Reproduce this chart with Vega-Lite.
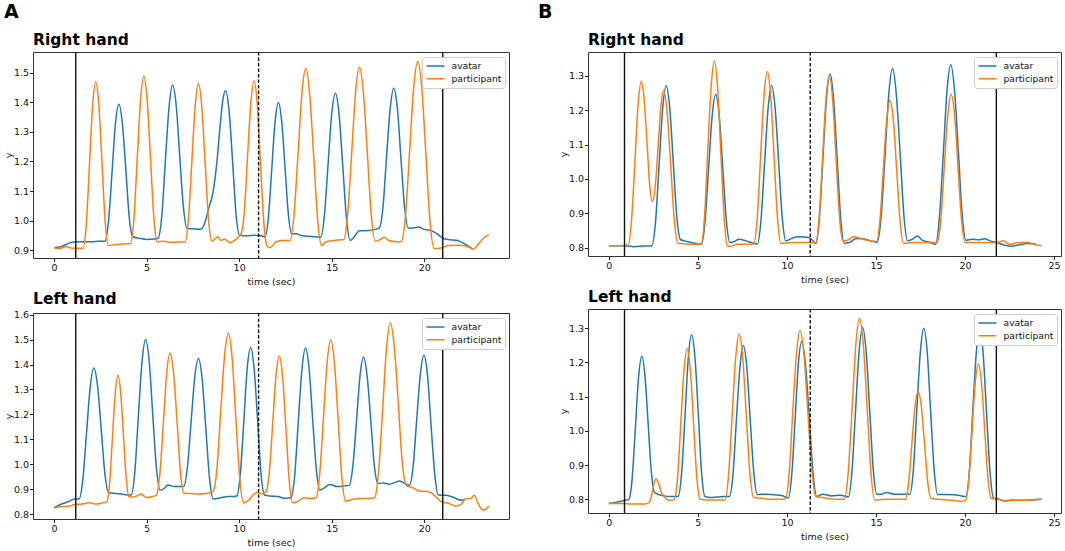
{
"$schema": "https://vega.github.io/schema/vega-lite/v6.json",
"padding": {"left": 2, "top": 2, "right": 2, "bottom": 3},
"config": {
 "font": "DejaVu Sans",
 "view": {"stroke": "#333", "strokeWidth": 1},
 "axis": {"grid": false, "domain": false, "tickColor": "#222", "tickSize": 3.5, "tickWidth": 1, "labelFontSize": 9.5, "labelColor": "#111", "titleFontSize": 9.5, "titleFontWeight": "normal", "titleColor": "#111", "labelPadding": 1},
 "axisX": {"titlePadding": 4},
 "axisY": {"titlePadding": 0},
 "legend": {"fillColor": "white", "strokeColor": "#ccc", "cornerRadius": 3, "padding": 3.5, "offset": 4.5, "labelFontSize": 9.2, "labelColor": "#111", "symbolType": "stroke", "symbolSize": 324, "symbolStrokeWidth": 1.5, "rowPadding": 1.7, "labelOffset": 6, "clipHeight": 11},
 "title": {"anchor": "start", "frame": "group", "fontSize": 15.5, "fontWeight": "bold", "color": "#000", "offset": 2.5}
},
"datasets": {
 "ev_a": [{"t":1.17,"k":"solid"},{"t":11.05,"k":"dashed"},{"t":21.0,"k":"solid"}],
 "ev_b": [{"t":0.88,"k":"solid"},{"t":11.31,"k":"dashed"},{"t":21.76,"k":"solid"}],
 "rh_a": [
{"t":0,"y":0.908,"s":"avatar"},{"t":0.3,"y":0.91,"s":"avatar"},{"t":0.7,"y":0.92,"s":"avatar"},{"t":1.0,"y":0.927,"s":"avatar"},{"t":1.5,"y":0.928,"s":"avatar"},{"t":2.0,"y":0.928,"s":"avatar"},{"t":2.4,"y":0.93,"s":"avatar"},
{"t":2.75,"y":0.93,"s":"avatar"},{"t":2.94,"y":0.998,"s":"avatar"},{"t":3.13,"y":1.162,"s":"avatar"},{"t":3.31,"y":1.326,"s":"avatar"},{"t":3.5,"y":1.394,"s":"avatar"},{"t":3.69,"y":1.328,"s":"avatar"},{"t":3.88,"y":1.17,"s":"avatar"},{"t":4.06,"y":1.011,"s":"avatar"},{"t":4.25,"y":0.945,"s":"avatar"},
{"t":4.6,"y":0.94,"s":"avatar"},{"t":5.0,"y":0.936,"s":"avatar"},{"t":5.4,"y":0.937,"s":"avatar"},
{"t":5.62,"y":0.94,"s":"avatar"},{"t":5.82,"y":1.016,"s":"avatar"},{"t":6.01,"y":1.2,"s":"avatar"},{"t":6.21,"y":1.383,"s":"avatar"},{"t":6.4,"y":1.459,"s":"avatar"},{"t":6.6,"y":1.388,"s":"avatar"},{"t":6.79,"y":1.216,"s":"avatar"},{"t":6.99,"y":1.044,"s":"avatar"},{"t":7.18,"y":0.973,"s":"avatar"},
{"t":7.5,"y":0.972,"s":"avatar"},{"t":7.9,"y":0.97,"s":"avatar"},{"t":8.1,"y":0.985,"s":"avatar"},{"t":8.35,"y":1.04,"s":"avatar"},{"t":8.6,"y":1.1,"s":"avatar"},{"t":8.8,"y":1.2,"s":"avatar"},{"t":8.97,"y":1.32,"s":"avatar"},{"t":9.12,"y":1.41,"s":"avatar"},{"t":9.27,"y":1.44,"s":"avatar"},{"t":9.46,"y":1.368,"s":"avatar"},{"t":9.65,"y":1.195,"s":"avatar"},{"t":9.83,"y":1.022,"s":"avatar"},{"t":10.02,"y":0.95,"s":"avatar"},
{"t":10.4,"y":0.948,"s":"avatar"},{"t":10.8,"y":0.95,"s":"avatar"},{"t":11.2,"y":0.948,"s":"avatar"},
{"t":11.4,"y":0.945,"s":"avatar"},{"t":11.58,"y":1.011,"s":"avatar"},{"t":11.76,"y":1.173,"s":"avatar"},{"t":11.94,"y":1.334,"s":"avatar"},{"t":12.12,"y":1.4,"s":"avatar"},{"t":12.3,"y":1.335,"s":"avatar"},{"t":12.48,"y":1.178,"s":"avatar"},{"t":12.66,"y":1.02,"s":"avatar"},{"t":12.84,"y":0.955,"s":"avatar"},
{"t":13.1,"y":0.955,"s":"avatar"},{"t":13.4,"y":0.948,"s":"avatar"},{"t":13.9,"y":0.946,"s":"avatar"},
{"t":14.4,"y":0.943,"s":"avatar"},{"t":14.6,"y":1.014,"s":"avatar"},{"t":14.8,"y":1.187,"s":"avatar"},{"t":15.0,"y":1.36,"s":"avatar"},{"t":15.2,"y":1.431,"s":"avatar"},{"t":15.4,"y":1.358,"s":"avatar"},{"t":15.6,"y":1.182,"s":"avatar"},{"t":15.8,"y":1.005,"s":"avatar"},{"t":16.0,"y":0.932,"s":"avatar"},
{"t":16.15,"y":0.94,"s":"avatar"},{"t":16.5,"y":0.965,"s":"avatar"},{"t":17.0,"y":0.966,"s":"avatar"},{"t":17.35,"y":0.97,"s":"avatar"},
{"t":17.57,"y":0.975,"s":"avatar"},{"t":17.77,"y":1.044,"s":"avatar"},{"t":17.96,"y":1.212,"s":"avatar"},{"t":18.16,"y":1.379,"s":"avatar"},{"t":18.35,"y":1.448,"s":"avatar"},{"t":18.55,"y":1.379,"s":"avatar"},{"t":18.74,"y":1.212,"s":"avatar"},{"t":18.94,"y":1.044,"s":"avatar"},{"t":19.13,"y":0.975,"s":"avatar"},
{"t":19.4,"y":0.975,"s":"avatar"},{"t":19.7,"y":0.978,"s":"avatar"},{"t":20.0,"y":0.97,"s":"avatar"},{"t":20.4,"y":0.965,"s":"avatar"},{"t":20.7,"y":0.955,"s":"avatar"},{"t":21.0,"y":0.94,"s":"avatar"},{"t":21.4,"y":0.935,"s":"avatar"},{"t":21.8,"y":0.932,"s":"avatar"},{"t":22.2,"y":0.92,"s":"avatar"},{"t":22.6,"y":0.905,"s":"avatar"},
{"t":0,"y":0.908,"s":"participant"},{"t":0.3,"y":0.905,"s":"participant"},{"t":0.65,"y":0.912,"s":"participant"},{"t":0.9,"y":0.907,"s":"participant"},{"t":1.2,"y":0.906,"s":"participant"},
{"t":1.57,"y":0.906,"s":"participant"},{"t":1.74,"y":0.988,"s":"participant"},{"t":1.91,"y":1.188,"s":"participant"},{"t":2.08,"y":1.388,"s":"participant"},{"t":2.25,"y":1.47,"s":"participant"},{"t":2.42,"y":1.389,"s":"participant"},{"t":2.59,"y":1.193,"s":"participant"},{"t":2.76,"y":0.996,"s":"participant"},{"t":2.93,"y":0.915,"s":"participant"},
{"t":3.2,"y":0.918,"s":"participant"},{"t":3.6,"y":0.92,"s":"participant"},{"t":3.9,"y":0.921,"s":"participant"},
{"t":4.13,"y":0.921,"s":"participant"},{"t":4.31,"y":1.004,"s":"participant"},{"t":4.49,"y":1.206,"s":"participant"},{"t":4.67,"y":1.407,"s":"participant"},{"t":4.85,"y":1.49,"s":"participant"},{"t":5.03,"y":1.408,"s":"participant"},{"t":5.21,"y":1.209,"s":"participant"},{"t":5.39,"y":1.01,"s":"participant"},{"t":5.57,"y":0.928,"s":"participant"},
{"t":5.9,"y":0.93,"s":"participant"},{"t":6.3,"y":0.926,"s":"participant"},{"t":6.7,"y":0.927,"s":"participant"},
{"t":7.08,"y":0.927,"s":"participant"},{"t":7.26,"y":1.005,"s":"participant"},{"t":7.44,"y":1.196,"s":"participant"},{"t":7.62,"y":1.386,"s":"participant"},{"t":7.8,"y":1.464,"s":"participant"},{"t":7.98,"y":1.386,"s":"participant"},{"t":8.16,"y":1.197,"s":"participant"},{"t":8.34,"y":1.008,"s":"participant"},{"t":8.52,"y":0.93,"s":"participant"},
{"t":8.7,"y":0.938,"s":"participant"},{"t":8.85,"y":0.945,"s":"participant"},{"t":9.0,"y":0.933,"s":"participant"},{"t":9.2,"y":0.937,"s":"participant"},{"t":9.5,"y":0.925,"s":"participant"},{"t":9.8,"y":0.935,"s":"participant"},
{"t":10.1,"y":0.955,"s":"participant"},{"t":10.28,"y":1.031,"s":"participant"},{"t":10.45,"y":1.214,"s":"participant"},{"t":10.63,"y":1.397,"s":"participant"},{"t":10.8,"y":1.473,"s":"participant"},{"t":10.98,"y":1.392,"s":"participant"},{"t":11.15,"y":1.194,"s":"participant"},{"t":11.33,"y":0.996,"s":"participant"},{"t":11.5,"y":0.915,"s":"participant"},
{"t":11.68,"y":0.908,"s":"participant"},{"t":12.0,"y":0.928,"s":"participant"},{"t":12.4,"y":0.932,"s":"participant"},
{"t":12.75,"y":0.932,"s":"participant"},{"t":12.96,"y":1.017,"s":"participant"},{"t":13.18,"y":1.224,"s":"participant"},{"t":13.39,"y":1.431,"s":"participant"},{"t":13.6,"y":1.516,"s":"participant"},{"t":13.81,"y":1.428,"s":"participant"},{"t":14.03,"y":1.215,"s":"participant"},{"t":14.24,"y":1.003,"s":"participant"},{"t":14.45,"y":0.915,"s":"participant"},
{"t":14.7,"y":0.928,"s":"participant"},{"t":15.1,"y":0.932,"s":"participant"},{"t":15.45,"y":0.935,"s":"participant"},
{"t":15.65,"y":0.935,"s":"participant"},{"t":15.86,"y":1.02,"s":"participant"},{"t":16.08,"y":1.228,"s":"participant"},{"t":16.29,"y":1.435,"s":"participant"},{"t":16.5,"y":1.52,"s":"participant"},{"t":16.71,"y":1.434,"s":"participant"},{"t":16.93,"y":1.225,"s":"participant"},{"t":17.14,"y":1.016,"s":"participant"},{"t":17.35,"y":0.93,"s":"participant"},
{"t":17.6,"y":0.935,"s":"participant"},{"t":17.85,"y":0.943,"s":"participant"},{"t":18.1,"y":0.932,"s":"participant"},{"t":18.5,"y":0.928,"s":"participant"},
{"t":18.77,"y":0.93,"s":"participant"},{"t":18.99,"y":1.019,"s":"participant"},{"t":19.21,"y":1.235,"s":"participant"},{"t":19.43,"y":1.451,"s":"participant"},{"t":19.65,"y":1.54,"s":"participant"},{"t":19.87,"y":1.447,"s":"participant"},{"t":20.09,"y":1.223,"s":"participant"},{"t":20.31,"y":0.998,"s":"participant"},{"t":20.53,"y":0.905,"s":"participant"},
{"t":20.9,"y":0.907,"s":"participant"},{"t":21.3,"y":0.915,"s":"participant"},{"t":21.8,"y":0.916,"s":"participant"},{"t":22.3,"y":0.913,"s":"participant"},{"t":22.65,"y":0.903,"s":"participant"},{"t":22.9,"y":0.918,"s":"participant"},{"t":23.2,"y":0.94,"s":"participant"},{"t":23.5,"y":0.952,"s":"participant"}
 ],
 "lh_a": [
{"t":0,"y":0.825,"s":"avatar"},{"t":0.4,"y":0.84,"s":"avatar"},{"t":0.8,"y":0.85,"s":"avatar"},{"t":1.1,"y":0.86,"s":"avatar"},
{"t":1.35,"y":0.86,"s":"avatar"},{"t":1.55,"y":0.937,"s":"avatar"},{"t":1.75,"y":1.123,"s":"avatar"},{"t":1.95,"y":1.309,"s":"avatar"},{"t":2.15,"y":1.386,"s":"avatar"},{"t":2.35,"y":1.313,"s":"avatar"},{"t":2.55,"y":1.136,"s":"avatar"},{"t":2.75,"y":0.958,"s":"avatar"},{"t":2.95,"y":0.885,"s":"avatar"},
{"t":3.4,"y":0.882,"s":"avatar"},{"t":3.8,"y":0.878,"s":"avatar"},
{"t":4.16,"y":0.876,"s":"avatar"},{"t":4.36,"y":0.967,"s":"avatar"},{"t":4.55,"y":1.189,"s":"avatar"},{"t":4.75,"y":1.41,"s":"avatar"},{"t":4.94,"y":1.501,"s":"avatar"},{"t":5.14,"y":1.413,"s":"avatar"},{"t":5.33,"y":1.199,"s":"avatar"},{"t":5.53,"y":0.984,"s":"avatar"},{"t":5.72,"y":0.896,"s":"avatar"},
{"t":5.9,"y":0.9,"s":"avatar"},{"t":6.15,"y":0.916,"s":"avatar"},{"t":6.5,"y":0.91,"s":"avatar"},
{"t":7.0,"y":0.91,"s":"avatar"},{"t":7.2,"y":0.985,"s":"avatar"},{"t":7.4,"y":1.167,"s":"avatar"},{"t":7.6,"y":1.349,"s":"avatar"},{"t":7.8,"y":1.424,"s":"avatar"},{"t":8.0,"y":1.342,"s":"avatar"},{"t":8.2,"y":1.142,"s":"avatar"},{"t":8.4,"y":0.942,"s":"avatar"},{"t":8.6,"y":0.86,"s":"avatar"},
{"t":9.0,"y":0.865,"s":"avatar"},{"t":9.4,"y":0.87,"s":"avatar"},{"t":9.7,"y":0.87,"s":"avatar"},
{"t":9.87,"y":0.872,"s":"avatar"},{"t":10.06,"y":0.959,"s":"avatar"},{"t":10.25,"y":1.17,"s":"avatar"},{"t":10.43,"y":1.381,"s":"avatar"},{"t":10.62,"y":1.468,"s":"avatar"},{"t":10.81,"y":1.382,"s":"avatar"},{"t":11.0,"y":1.172,"s":"avatar"},{"t":11.18,"y":0.962,"s":"avatar"},{"t":11.37,"y":0.876,"s":"avatar"},
{"t":11.7,"y":0.872,"s":"avatar"},{"t":12.1,"y":0.87,"s":"avatar"},{"t":12.5,"y":0.863,"s":"avatar"},
{"t":12.8,"y":0.866,"s":"avatar"},{"t":13.0,"y":0.954,"s":"avatar"},{"t":13.19,"y":1.166,"s":"avatar"},{"t":13.39,"y":1.378,"s":"avatar"},{"t":13.58,"y":1.466,"s":"avatar"},{"t":13.78,"y":1.383,"s":"avatar"},{"t":13.97,"y":1.181,"s":"avatar"},{"t":14.17,"y":0.979,"s":"avatar"},{"t":14.36,"y":0.896,"s":"avatar"},
{"t":14.6,"y":0.905,"s":"avatar"},{"t":14.9,"y":0.919,"s":"avatar"},{"t":15.3,"y":0.91,"s":"avatar"},{"t":15.7,"y":0.913,"s":"avatar"},
{"t":15.95,"y":0.915,"s":"avatar"},{"t":16.14,"y":0.99,"s":"avatar"},{"t":16.34,"y":1.173,"s":"avatar"},{"t":16.53,"y":1.355,"s":"avatar"},{"t":16.72,"y":1.43,"s":"avatar"},{"t":16.91,"y":1.356,"s":"avatar"},{"t":17.11,"y":1.177,"s":"avatar"},{"t":17.3,"y":0.997,"s":"avatar"},{"t":17.49,"y":0.923,"s":"avatar"},
{"t":17.8,"y":0.925,"s":"avatar"},{"t":18.1,"y":0.92,"s":"avatar"},{"t":18.4,"y":0.926,"s":"avatar"},{"t":18.66,"y":0.933,"s":"avatar"},{"t":18.9,"y":0.925,"s":"avatar"},
{"t":19.2,"y":0.915,"s":"avatar"},{"t":19.4,"y":0.991,"s":"avatar"},{"t":19.59,"y":1.176,"s":"avatar"},{"t":19.79,"y":1.361,"s":"avatar"},{"t":19.98,"y":1.437,"s":"avatar"},{"t":20.18,"y":1.355,"s":"avatar"},{"t":20.37,"y":1.157,"s":"avatar"},{"t":20.57,"y":0.958,"s":"avatar"},{"t":20.76,"y":0.876,"s":"avatar"},
{"t":21.2,"y":0.875,"s":"avatar"},{"t":21.6,"y":0.866,"s":"avatar"},{"t":22.0,"y":0.855,"s":"avatar"},{"t":22.2,"y":0.858,"s":"avatar"},
{"t":0,"y":0.825,"s":"participant"},{"t":0.4,"y":0.83,"s":"participant"},{"t":0.8,"y":0.831,"s":"participant"},{"t":1.1,"y":0.838,"s":"participant"},{"t":1.5,"y":0.84,"s":"participant"},{"t":1.9,"y":0.845,"s":"participant"},{"t":2.3,"y":0.84,"s":"participant"},{"t":2.65,"y":0.845,"s":"participant"},
{"t":2.85,"y":0.85,"s":"participant"},{"t":3.0,"y":0.924,"s":"participant"},{"t":3.15,"y":1.104,"s":"participant"},{"t":3.3,"y":1.283,"s":"participant"},{"t":3.45,"y":1.357,"s":"participant"},{"t":3.6,"y":1.286,"s":"participant"},{"t":3.75,"y":1.113,"s":"participant"},{"t":3.9,"y":0.94,"s":"participant"},{"t":4.05,"y":0.869,"s":"participant"},
{"t":4.3,"y":0.868,"s":"participant"},{"t":4.7,"y":0.88,"s":"participant"},{"t":5.0,"y":0.866,"s":"participant"},{"t":5.3,"y":0.87,"s":"participant"},
{"t":5.52,"y":0.875,"s":"participant"},{"t":5.71,"y":0.958,"s":"participant"},{"t":5.9,"y":1.161,"s":"participant"},{"t":6.08,"y":1.363,"s":"participant"},{"t":6.27,"y":1.446,"s":"participant"},{"t":6.46,"y":1.364,"s":"participant"},{"t":6.65,"y":1.165,"s":"participant"},{"t":6.83,"y":0.965,"s":"participant"},{"t":7.02,"y":0.883,"s":"participant"},
{"t":7.4,"y":0.882,"s":"participant"},{"t":7.8,"y":0.88,"s":"participant"},{"t":8.2,"y":0.882,"s":"participant"},
{"t":8.59,"y":0.89,"s":"participant"},{"t":8.8,"y":0.983,"s":"participant"},{"t":9.0,"y":1.209,"s":"participant"},{"t":9.21,"y":1.434,"s":"participant"},{"t":9.41,"y":1.527,"s":"participant"},{"t":9.62,"y":1.427,"s":"participant"},{"t":9.82,"y":1.186,"s":"participant"},{"t":10.03,"y":0.945,"s":"participant"},{"t":10.23,"y":0.845,"s":"participant"},
{"t":10.5,"y":0.855,"s":"participant"},{"t":10.8,"y":0.88,"s":"participant"},{"t":11.0,"y":0.887,"s":"participant"},{"t":11.2,"y":0.88,"s":"participant"},
{"t":11.45,"y":0.89,"s":"participant"},{"t":11.63,"y":0.969,"s":"participant"},{"t":11.81,"y":1.162,"s":"participant"},{"t":11.99,"y":1.355,"s":"participant"},{"t":12.17,"y":1.434,"s":"participant"},{"t":12.35,"y":1.348,"s":"participant"},{"t":12.53,"y":1.14,"s":"participant"},{"t":12.71,"y":0.931,"s":"participant"},{"t":12.89,"y":0.845,"s":"participant"},
{"t":13.1,"y":0.848,"s":"participant"},{"t":13.5,"y":0.865,"s":"participant"},{"t":13.9,"y":0.862,"s":"participant"},
{"t":14.15,"y":0.865,"s":"participant"},{"t":14.35,"y":0.958,"s":"participant"},{"t":14.55,"y":1.183,"s":"participant"},{"t":14.75,"y":1.407,"s":"participant"},{"t":14.95,"y":1.5,"s":"participant"},{"t":15.15,"y":1.405,"s":"participant"},{"t":15.35,"y":1.176,"s":"participant"},{"t":15.55,"y":0.947,"s":"participant"},{"t":15.75,"y":0.852,"s":"participant"},
{"t":16.1,"y":0.858,"s":"participant"},{"t":16.6,"y":0.862,"s":"participant"},{"t":17.0,"y":0.862,"s":"participant"},
{"t":17.32,"y":0.865,"s":"participant"},{"t":17.53,"y":0.968,"s":"participant"},{"t":17.75,"y":1.217,"s":"participant"},{"t":17.96,"y":1.465,"s":"participant"},{"t":18.17,"y":1.568,"s":"participant"},{"t":18.38,"y":1.473,"s":"participant"},{"t":18.6,"y":1.242,"s":"participant"},{"t":18.81,"y":1.011,"s":"participant"},{"t":19.02,"y":0.916,"s":"participant"},
{"t":19.4,"y":0.905,"s":"participant"},{"t":19.75,"y":0.892,"s":"participant"},{"t":20.2,"y":0.89,"s":"participant"},{"t":20.5,"y":0.878,"s":"participant"},{"t":20.95,"y":0.848,"s":"participant"},{"t":21.3,"y":0.843,"s":"participant"},{"t":21.75,"y":0.832,"s":"participant"},{"t":22.0,"y":0.84,"s":"participant"},{"t":22.25,"y":0.862,"s":"participant"},{"t":22.5,"y":0.862,"s":"participant"},{"t":22.7,"y":0.875,"s":"participant"},{"t":22.9,"y":0.845,"s":"participant"},{"t":23.15,"y":0.816,"s":"participant"},{"t":23.3,"y":0.818,"s":"participant"},{"t":23.5,"y":0.832,"s":"participant"}
 ],
 "rh_b": [
{"t":0,"y":0.806,"s":"avatar"},{"t":0.6,"y":0.806,"s":"avatar"},{"t":1.0,"y":0.805,"s":"avatar"},{"t":1.4,"y":0.803,"s":"avatar"},{"t":2.0,"y":0.805,"s":"avatar"},
{"t":2.42,"y":0.806,"s":"avatar"},{"t":2.62,"y":0.874,"s":"avatar"},{"t":2.82,"y":1.039,"s":"avatar"},{"t":3.02,"y":1.203,"s":"avatar"},{"t":3.22,"y":1.271,"s":"avatar"},{"t":3.42,"y":1.206,"s":"avatar"},{"t":3.62,"y":1.048,"s":"avatar"},{"t":3.82,"y":0.889,"s":"avatar"},{"t":4.02,"y":0.824,"s":"avatar"},
{"t":4.4,"y":0.818,"s":"avatar"},{"t":4.75,"y":0.814,"s":"avatar"},{"t":5.05,"y":0.811,"s":"avatar"},
{"t":5.2,"y":0.811,"s":"avatar"},{"t":5.4,"y":0.875,"s":"avatar"},{"t":5.6,"y":1.029,"s":"avatar"},{"t":5.8,"y":1.182,"s":"avatar"},{"t":6.0,"y":1.246,"s":"avatar"},{"t":6.2,"y":1.183,"s":"avatar"},{"t":6.4,"y":1.031,"s":"avatar"},{"t":6.6,"y":0.878,"s":"avatar"},{"t":6.8,"y":0.815,"s":"avatar"},
{"t":7.05,"y":0.818,"s":"avatar"},{"t":7.32,"y":0.825,"s":"avatar"},{"t":7.7,"y":0.82,"s":"avatar"},{"t":8.0,"y":0.815,"s":"avatar"},
{"t":8.34,"y":0.811,"s":"avatar"},{"t":8.54,"y":0.878,"s":"avatar"},{"t":8.74,"y":1.041,"s":"avatar"},{"t":8.94,"y":1.204,"s":"avatar"},{"t":9.14,"y":1.271,"s":"avatar"},{"t":9.34,"y":1.205,"s":"avatar"},{"t":9.54,"y":1.046,"s":"avatar"},{"t":9.74,"y":0.886,"s":"avatar"},{"t":9.94,"y":0.82,"s":"avatar"},
{"t":10.3,"y":0.828,"s":"avatar"},{"t":10.6,"y":0.832,"s":"avatar"},{"t":11.0,"y":0.831,"s":"avatar"},{"t":11.3,"y":0.828,"s":"avatar"},{"t":11.5,"y":0.818,"s":"avatar"},
{"t":11.62,"y":0.812,"s":"avatar"},{"t":11.82,"y":0.884,"s":"avatar"},{"t":12.02,"y":1.059,"s":"avatar"},{"t":12.22,"y":1.233,"s":"avatar"},{"t":12.42,"y":1.305,"s":"avatar"},{"t":12.62,"y":1.233,"s":"avatar"},{"t":12.82,"y":1.059,"s":"avatar"},{"t":13.02,"y":0.885,"s":"avatar"},{"t":13.22,"y":0.813,"s":"avatar"},
{"t":13.5,"y":0.815,"s":"avatar"},{"t":13.9,"y":0.827,"s":"avatar"},{"t":14.3,"y":0.826,"s":"avatar"},{"t":14.7,"y":0.82,"s":"avatar"},
{"t":15.08,"y":0.816,"s":"avatar"},{"t":15.29,"y":0.89,"s":"avatar"},{"t":15.51,"y":1.069,"s":"avatar"},{"t":15.72,"y":1.247,"s":"avatar"},{"t":15.93,"y":1.321,"s":"avatar"},{"t":16.14,"y":1.248,"s":"avatar"},{"t":16.36,"y":1.071,"s":"avatar"},{"t":16.57,"y":0.893,"s":"avatar"},{"t":16.78,"y":0.82,"s":"avatar"},
{"t":17.05,"y":0.825,"s":"avatar"},{"t":17.33,"y":0.834,"s":"avatar"},{"t":17.6,"y":0.822,"s":"avatar"},{"t":18.0,"y":0.816,"s":"avatar"},
{"t":18.35,"y":0.81,"s":"avatar"},{"t":18.56,"y":0.886,"s":"avatar"},{"t":18.78,"y":1.072,"s":"avatar"},{"t":18.99,"y":1.257,"s":"avatar"},{"t":19.2,"y":1.333,"s":"avatar"},{"t":19.41,"y":1.258,"s":"avatar"},{"t":19.63,"y":1.078,"s":"avatar"},{"t":19.84,"y":0.897,"s":"avatar"},{"t":20.05,"y":0.822,"s":"avatar"},
{"t":20.4,"y":0.825,"s":"avatar"},{"t":20.8,"y":0.823,"s":"avatar"},{"t":21.1,"y":0.826,"s":"avatar"},{"t":21.4,"y":0.82,"s":"avatar"},{"t":21.8,"y":0.815,"s":"avatar"},{"t":22.2,"y":0.808,"s":"avatar"},{"t":22.6,"y":0.804,"s":"avatar"},{"t":23.0,"y":0.808,"s":"avatar"},{"t":23.5,"y":0.812,"s":"avatar"},{"t":24.0,"y":0.81,"s":"avatar"},
{"t":0,"y":0.806,"s":"participant"},{"t":0.5,"y":0.806,"s":"participant"},{"t":0.9,"y":0.807,"s":"participant"},
{"t":1.08,"y":0.807,"s":"participant"},{"t":1.27,"y":0.877,"s":"participant"},{"t":1.46,"y":1.046,"s":"participant"},{"t":1.64,"y":1.214,"s":"participant"},{"t":1.83,"y":1.284,"s":"participant"},{"t":1.98,"y":1.233,"s":"participant"},{"t":2.14,"y":1.109,"s":"participant"},{"t":2.29,"y":0.985,"s":"participant"},{"t":2.45,"y":0.934,"s":"participant"},
{"t":2.61,"y":0.981,"s":"participant"},{"t":2.77,"y":1.095,"s":"participant"},{"t":2.92,"y":1.209,"s":"participant"},{"t":3.08,"y":1.256,"s":"participant"},{"t":3.28,"y":1.191,"s":"participant"},{"t":3.48,"y":1.035,"s":"participant"},{"t":3.68,"y":0.878,"s":"participant"},{"t":3.88,"y":0.813,"s":"participant"},
{"t":4.3,"y":0.811,"s":"participant"},{"t":4.8,"y":0.81,"s":"participant"},
{"t":5.18,"y":0.81,"s":"participant"},{"t":5.37,"y":0.888,"s":"participant"},{"t":5.55,"y":1.077,"s":"participant"},{"t":5.74,"y":1.265,"s":"participant"},{"t":5.92,"y":1.343,"s":"participant"},{"t":6.11,"y":1.264,"s":"participant"},{"t":6.29,"y":1.074,"s":"participant"},{"t":6.48,"y":0.884,"s":"participant"},{"t":6.66,"y":0.805,"s":"participant"},
{"t":6.8,"y":0.804,"s":"participant"},{"t":7.2,"y":0.81,"s":"participant"},{"t":7.7,"y":0.81,"s":"participant"},
{"t":8.14,"y":0.811,"s":"participant"},{"t":8.33,"y":0.884,"s":"participant"},{"t":8.52,"y":1.062,"s":"participant"},{"t":8.71,"y":1.239,"s":"participant"},{"t":8.9,"y":1.312,"s":"participant"},{"t":9.09,"y":1.239,"s":"participant"},{"t":9.28,"y":1.063,"s":"participant"},{"t":9.47,"y":0.886,"s":"participant"},{"t":9.66,"y":0.813,"s":"participant"},
{"t":10.2,"y":0.815,"s":"participant"},{"t":10.8,"y":0.815,"s":"participant"},{"t":11.3,"y":0.815,"s":"participant"},
{"t":11.62,"y":0.815,"s":"participant"},{"t":11.81,"y":0.886,"s":"participant"},{"t":12.0,"y":1.057,"s":"participant"},{"t":12.19,"y":1.228,"s":"participant"},{"t":12.38,"y":1.299,"s":"participant"},{"t":12.57,"y":1.229,"s":"participant"},{"t":12.76,"y":1.06,"s":"participant"},{"t":12.95,"y":0.89,"s":"participant"},{"t":13.14,"y":0.82,"s":"participant"},
{"t":13.4,"y":0.822,"s":"participant"},{"t":13.75,"y":0.832,"s":"participant"},{"t":14.2,"y":0.826,"s":"participant"},{"t":14.6,"y":0.82,"s":"participant"},
{"t":15.03,"y":0.818,"s":"participant"},{"t":15.22,"y":0.878,"s":"participant"},{"t":15.41,"y":1.024,"s":"participant"},{"t":15.6,"y":1.169,"s":"participant"},{"t":15.79,"y":1.229,"s":"participant"},{"t":15.98,"y":1.168,"s":"participant"},{"t":16.17,"y":1.021,"s":"participant"},{"t":16.36,"y":0.874,"s":"participant"},{"t":16.55,"y":0.813,"s":"participant"},
{"t":17.0,"y":0.815,"s":"participant"},{"t":17.6,"y":0.815,"s":"participant"},{"t":18.1,"y":0.815,"s":"participant"},
{"t":18.44,"y":0.816,"s":"participant"},{"t":18.64,"y":0.879,"s":"participant"},{"t":18.83,"y":1.031,"s":"participant"},{"t":19.03,"y":1.183,"s":"participant"},{"t":19.22,"y":1.246,"s":"participant"},{"t":19.42,"y":1.183,"s":"participant"},{"t":19.61,"y":1.031,"s":"participant"},{"t":19.81,"y":0.878,"s":"participant"},{"t":20.0,"y":0.815,"s":"participant"},
{"t":20.6,"y":0.815,"s":"participant"},{"t":21.2,"y":0.815,"s":"participant"},{"t":21.8,"y":0.815,"s":"participant"},{"t":22.15,"y":0.82,"s":"participant"},{"t":22.5,"y":0.81,"s":"participant"},{"t":23.0,"y":0.815,"s":"participant"},{"t":23.5,"y":0.815,"s":"participant"},{"t":24.0,"y":0.808,"s":"participant"},{"t":24.3,"y":0.806,"s":"participant"}
 ],
 "lh_b": [
{"t":0,"y":0.788,"s":"avatar"},{"t":0.5,"y":0.792,"s":"avatar"},{"t":0.9,"y":0.797,"s":"avatar"},
{"t":1.13,"y":0.8,"s":"avatar"},{"t":1.31,"y":0.861,"s":"avatar"},{"t":1.49,"y":1.009,"s":"avatar"},{"t":1.67,"y":1.157,"s":"avatar"},{"t":1.85,"y":1.218,"s":"avatar"},{"t":2.03,"y":1.16,"s":"avatar"},{"t":2.21,"y":1.019,"s":"avatar"},{"t":2.39,"y":0.878,"s":"avatar"},{"t":2.57,"y":0.82,"s":"avatar"},
{"t":2.8,"y":0.814,"s":"avatar"},{"t":3.1,"y":0.81,"s":"avatar"},{"t":3.5,"y":0.808,"s":"avatar"},
{"t":3.9,"y":0.809,"s":"avatar"},{"t":4.09,"y":0.878,"s":"avatar"},{"t":4.28,"y":1.045,"s":"avatar"},{"t":4.46,"y":1.212,"s":"avatar"},{"t":4.65,"y":1.281,"s":"avatar"},{"t":4.84,"y":1.212,"s":"avatar"},{"t":5.03,"y":1.045,"s":"avatar"},{"t":5.21,"y":0.877,"s":"avatar"},{"t":5.4,"y":0.808,"s":"avatar"},
{"t":5.7,"y":0.805,"s":"avatar"},{"t":6.1,"y":0.807,"s":"avatar"},{"t":6.5,"y":0.808,"s":"avatar"},
{"t":6.77,"y":0.808,"s":"avatar"},{"t":6.97,"y":0.872,"s":"avatar"},{"t":7.16,"y":1.029,"s":"avatar"},{"t":7.36,"y":1.185,"s":"avatar"},{"t":7.55,"y":1.249,"s":"avatar"},{"t":7.75,"y":1.185,"s":"avatar"},{"t":7.94,"y":1.032,"s":"avatar"},{"t":8.14,"y":0.878,"s":"avatar"},{"t":8.33,"y":0.814,"s":"avatar"},
{"t":8.8,"y":0.815,"s":"avatar"},{"t":9.3,"y":0.813,"s":"avatar"},{"t":9.7,"y":0.811,"s":"avatar"},{"t":9.95,"y":0.806,"s":"avatar"},
{"t":10.08,"y":0.804,"s":"avatar"},{"t":10.27,"y":0.871,"s":"avatar"},{"t":10.46,"y":1.033,"s":"avatar"},{"t":10.64,"y":1.194,"s":"avatar"},{"t":10.83,"y":1.261,"s":"avatar"},{"t":11.04,"y":1.195,"s":"avatar"},{"t":11.26,"y":1.035,"s":"avatar"},{"t":11.47,"y":0.874,"s":"avatar"},{"t":11.68,"y":0.808,"s":"avatar"},
{"t":12.0,"y":0.815,"s":"avatar"},{"t":12.5,"y":0.81,"s":"avatar"},{"t":13.0,"y":0.812,"s":"avatar"},
{"t":13.45,"y":0.807,"s":"avatar"},{"t":13.65,"y":0.879,"s":"avatar"},{"t":13.85,"y":1.055,"s":"avatar"},{"t":14.05,"y":1.23,"s":"avatar"},{"t":14.25,"y":1.302,"s":"avatar"},{"t":14.45,"y":1.231,"s":"avatar"},{"t":14.65,"y":1.059,"s":"avatar"},{"t":14.85,"y":0.886,"s":"avatar"},{"t":15.05,"y":0.815,"s":"avatar"},
{"t":15.3,"y":0.815,"s":"avatar"},{"t":15.6,"y":0.82,"s":"avatar"},{"t":16.0,"y":0.815,"s":"avatar"},{"t":16.5,"y":0.815,"s":"avatar"},
{"t":16.9,"y":0.815,"s":"avatar"},{"t":17.1,"y":0.886,"s":"avatar"},{"t":17.29,"y":1.058,"s":"avatar"},{"t":17.49,"y":1.229,"s":"avatar"},{"t":17.68,"y":1.3,"s":"avatar"},{"t":17.88,"y":1.229,"s":"avatar"},{"t":18.07,"y":1.057,"s":"avatar"},{"t":18.27,"y":0.885,"s":"avatar"},{"t":18.46,"y":0.814,"s":"avatar"},
{"t":18.9,"y":0.814,"s":"avatar"},{"t":19.4,"y":0.813,"s":"avatar"},{"t":19.8,"y":0.81,"s":"avatar"},
{"t":20.04,"y":0.808,"s":"avatar"},{"t":20.24,"y":0.879,"s":"avatar"},{"t":20.43,"y":1.053,"s":"avatar"},{"t":20.63,"y":1.226,"s":"avatar"},{"t":20.82,"y":1.297,"s":"avatar"},{"t":21.02,"y":1.225,"s":"avatar"},{"t":21.21,"y":1.051,"s":"avatar"},{"t":21.41,"y":0.876,"s":"avatar"},{"t":21.6,"y":0.804,"s":"avatar"},
{"t":21.9,"y":0.8,"s":"avatar"},{"t":22.2,"y":0.795,"s":"avatar"},{"t":22.6,"y":0.798,"s":"avatar"},{"t":23.2,"y":0.797,"s":"avatar"},{"t":23.8,"y":0.798,"s":"avatar"},{"t":24.3,"y":0.8,"s":"avatar"},
{"t":0,"y":0.788,"s":"participant"},{"t":0.5,"y":0.788,"s":"participant"},{"t":1.0,"y":0.787,"s":"participant"},{"t":1.5,"y":0.786,"s":"participant"},{"t":2.0,"y":0.786,"s":"participant"},{"t":2.25,"y":0.79,"s":"participant"},
{"t":2.4,"y":0.81,"s":"participant"},{"t":2.55,"y":0.85,"s":"participant"},{"t":2.65,"y":0.86,"s":"participant"},{"t":2.78,"y":0.848,"s":"participant"},{"t":2.95,"y":0.82,"s":"participant"},{"t":3.2,"y":0.803,"s":"participant"},{"t":3.5,"y":0.797,"s":"participant"},
{"t":3.68,"y":0.8,"s":"participant"},{"t":3.86,"y":0.864,"s":"participant"},{"t":4.04,"y":1.02,"s":"participant"},{"t":4.22,"y":1.176,"s":"participant"},{"t":4.4,"y":1.24,"s":"participant"},{"t":4.58,"y":1.176,"s":"participant"},{"t":4.76,"y":1.02,"s":"participant"},{"t":4.94,"y":0.864,"s":"participant"},{"t":5.12,"y":0.8,"s":"participant"},
{"t":5.5,"y":0.798,"s":"participant"},{"t":6.0,"y":0.798,"s":"participant"},
{"t":6.52,"y":0.798,"s":"participant"},{"t":6.72,"y":0.869,"s":"participant"},{"t":6.92,"y":1.041,"s":"participant"},{"t":7.12,"y":1.212,"s":"participant"},{"t":7.32,"y":1.283,"s":"participant"},{"t":7.52,"y":1.213,"s":"participant"},{"t":7.72,"y":1.045,"s":"participant"},{"t":7.92,"y":0.876,"s":"participant"},{"t":8.12,"y":0.806,"s":"participant"},
{"t":8.6,"y":0.803,"s":"participant"},{"t":9.1,"y":0.8,"s":"participant"},{"t":9.6,"y":0.8,"s":"participant"},
{"t":9.91,"y":0.801,"s":"participant"},{"t":10.12,"y":0.873,"s":"participant"},{"t":10.32,"y":1.047,"s":"participant"},{"t":10.53,"y":1.221,"s":"participant"},{"t":10.73,"y":1.293,"s":"participant"},{"t":10.96,"y":1.222,"s":"participant"},{"t":11.18,"y":1.051,"s":"participant"},{"t":11.41,"y":0.879,"s":"participant"},{"t":11.63,"y":0.808,"s":"participant"},
{"t":12.0,"y":0.805,"s":"participant"},{"t":12.5,"y":0.801,"s":"participant"},{"t":12.9,"y":0.8,"s":"participant"},
{"t":13.23,"y":0.8,"s":"participant"},{"t":13.44,"y":0.877,"s":"participant"},{"t":13.66,"y":1.065,"s":"participant"},{"t":13.87,"y":1.252,"s":"participant"},{"t":14.08,"y":1.329,"s":"participant"},{"t":14.29,"y":1.251,"s":"participant"},{"t":14.51,"y":1.064,"s":"participant"},{"t":14.72,"y":0.876,"s":"participant"},{"t":14.93,"y":0.798,"s":"participant"},
{"t":15.5,"y":0.8,"s":"participant"},{"t":16.0,"y":0.8,"s":"participant"},
{"t":16.65,"y":0.8,"s":"participant"},{"t":16.83,"y":0.846,"s":"participant"},{"t":17.01,"y":0.958,"s":"participant"},{"t":17.19,"y":1.07,"s":"participant"},{"t":17.37,"y":1.116,"s":"participant"},{"t":17.55,"y":1.07,"s":"participant"},{"t":17.73,"y":0.96,"s":"participant"},{"t":17.91,"y":0.849,"s":"participant"},{"t":18.09,"y":0.803,"s":"participant"},
{"t":18.5,"y":0.8,"s":"participant"},{"t":19.0,"y":0.798,"s":"participant"},{"t":19.5,"y":0.796,"s":"participant"},{"t":19.8,"y":0.794,"s":"participant"},
{"t":20.03,"y":0.797,"s":"participant"},{"t":20.21,"y":0.855,"s":"participant"},{"t":20.39,"y":0.996,"s":"participant"},{"t":20.57,"y":1.137,"s":"participant"},{"t":20.75,"y":1.195,"s":"participant"},{"t":20.93,"y":1.138,"s":"participant"},{"t":21.11,"y":0.999,"s":"participant"},{"t":21.29,"y":0.86,"s":"participant"},{"t":21.47,"y":0.803,"s":"participant"},
{"t":21.9,"y":0.8,"s":"participant"},{"t":22.3,"y":0.795,"s":"participant"},{"t":22.7,"y":0.797,"s":"participant"},{"t":23.2,"y":0.797,"s":"participant"},{"t":23.7,"y":0.798,"s":"participant"},{"t":24.0,"y":0.8,"s":"participant"},{"t":24.3,"y":0.8,"s":"participant"}
 ]
},
"spacing": 27,
"resolve": {"scale": {"color": "independent", "x": "independent", "y": "independent"}, "legend": {"color": "independent"}},
"hconcat": [
 {
  "title": {"text": "A", "frame": "bounds", "fontSize": 19, "fontWeight": "bold", "anchor": "start", "offset": 11, "dx": 1},
  "spacing": 5,
  "resolve": {"scale": {"color": "independent", "x": "independent", "y": "independent"}, "legend": {"color": "independent"}},
  "vconcat": [
   {
    "title": {"text": "Right hand"},
    "width": 476, "height": 206,
    "layer": [
     {"data": {"name": "rh_a"}, "mark": {"type": "line", "strokeWidth": 1.5, "interpolate": "monotone"},
      "encoding": {
       "x": {"field": "t", "type": "quantitative", "title": "time (sec)", "scale": {"domain": [-1.14, 24.58], "nice": false, "zero": false}, "axis": {"values": [0, 5, 10, 15, 20]}},
       "y": {"field": "y", "type": "quantitative", "title": "y", "scale": {"domain": [0.873, 1.571], "nice": false, "zero": false}, "axis": {"values": [0.9, 1.0, 1.1, 1.2, 1.3, 1.4, 1.5], "format": ".1f"}},
       "color": {"field": "s", "type": "nominal", "scale": {"domain": ["avatar", "participant"], "range": ["#1f77b4", "#ff7f0e"]}, "legend": {"title": null, "orient": "top-right"}}
      }},
     {"data": {"name": "ev_a"}, "mark": {"type": "rule", "color": "#111", "strokeWidth": 1.4},
      "encoding": {
       "x": {"field": "t", "type": "quantitative", "title": "time (sec)"},
       "strokeDash": {"field": "k", "type": "nominal", "scale": {"domain": ["solid", "dashed"], "range": [[1, 0], [3.5, 2]]}, "legend": null}
      }}
    ]
   },
   {
    "title": {"text": "Left hand"},
    "width": 476, "height": 206,
    "layer": [
     {"data": {"name": "lh_a"}, "mark": {"type": "line", "strokeWidth": 1.5, "interpolate": "monotone"},
      "encoding": {
       "x": {"field": "t", "type": "quantitative", "title": "time (sec)", "scale": {"domain": [-1.14, 24.58], "nice": false, "zero": false}, "axis": {"values": [0, 5, 10, 15, 20]}},
       "y": {"field": "y", "type": "quantitative", "title": "y", "scale": {"domain": [0.78, 1.607], "nice": false, "zero": false}, "axis": {"values": [0.8, 0.9, 1.0, 1.1, 1.2, 1.3, 1.4, 1.5, 1.6], "format": ".1f"}},
       "color": {"field": "s", "type": "nominal", "scale": {"domain": ["avatar", "participant"], "range": ["#1f77b4", "#ff7f0e"]}, "legend": {"title": null, "orient": "top-right"}}
      }},
     {"data": {"name": "ev_a"}, "mark": {"type": "rule", "color": "#111", "strokeWidth": 1.4},
      "encoding": {
       "x": {"field": "t", "type": "quantitative", "title": "time (sec)"},
       "strokeDash": {"field": "k", "type": "nominal", "scale": {"domain": ["solid", "dashed"], "range": [[1, 0], [3.5, 2]]}, "legend": null}
      }}
    ]
   }
  ]
 },
 {
  "title": {"text": "B", "frame": "bounds", "fontSize": 19, "fontWeight": "bold", "anchor": "start", "offset": 11, "dx": -20},
  "spacing": 5,
  "resolve": {"scale": {"color": "independent", "x": "independent", "y": "independent"}, "legend": {"color": "independent"}},
  "vconcat": [
   {
    "title": {"text": "Right hand"},
    "width": 473, "height": 204,
    "layer": [
     {"data": {"name": "rh_b"}, "mark": {"type": "line", "strokeWidth": 1.5, "interpolate": "monotone"},
      "encoding": {
       "x": {"field": "t", "type": "quantitative", "title": "time (sec)", "scale": {"domain": [-1.17, 25.39], "nice": false, "zero": false}, "axis": {"values": [0, 5, 10, 15, 20, 25]}},
       "y": {"field": "y", "type": "quantitative", "title": "y", "scale": {"domain": [0.776, 1.369], "nice": false, "zero": false}, "axis": {"values": [0.8, 0.9, 1.0, 1.1, 1.2, 1.3], "format": ".1f"}},
       "color": {"field": "s", "type": "nominal", "scale": {"domain": ["avatar", "participant"], "range": ["#1f77b4", "#ff7f0e"]}, "legend": {"title": null, "orient": "top-right"}}
      }},
     {"data": {"name": "ev_b"}, "mark": {"type": "rule", "color": "#111", "strokeWidth": 1.4},
      "encoding": {
       "x": {"field": "t", "type": "quantitative", "title": "time (sec)"},
       "strokeDash": {"field": "k", "type": "nominal", "scale": {"domain": ["solid", "dashed"], "range": [[1, 0], [3.5, 2]]}, "legend": null}
      }}
    ]
   },
   {
    "title": {"text": "Left hand"},
    "width": 473, "height": 204,
    "layer": [
     {"data": {"name": "lh_b"}, "mark": {"type": "line", "strokeWidth": 1.5, "interpolate": "monotone"},
      "encoding": {
       "x": {"field": "t", "type": "quantitative", "title": "time (sec)", "scale": {"domain": [-1.17, 25.39], "nice": false, "zero": false}, "axis": {"values": [0, 5, 10, 15, 20, 25]}},
       "y": {"field": "y", "type": "quantitative", "title": "y", "scale": {"domain": [0.76, 1.356], "nice": false, "zero": false}, "axis": {"values": [0.8, 0.9, 1.0, 1.1, 1.2, 1.3], "format": ".1f"}},
       "color": {"field": "s", "type": "nominal", "scale": {"domain": ["avatar", "participant"], "range": ["#1f77b4", "#ff7f0e"]}, "legend": {"title": null, "orient": "top-right"}}
      }},
     {"data": {"name": "ev_b"}, "mark": {"type": "rule", "color": "#111", "strokeWidth": 1.4},
      "encoding": {
       "x": {"field": "t", "type": "quantitative", "title": "time (sec)"},
       "strokeDash": {"field": "k", "type": "nominal", "scale": {"domain": ["solid", "dashed"], "range": [[1, 0], [3.5, 2]]}, "legend": null}
      }}
    ]
   }
  ]
 }
]
}
